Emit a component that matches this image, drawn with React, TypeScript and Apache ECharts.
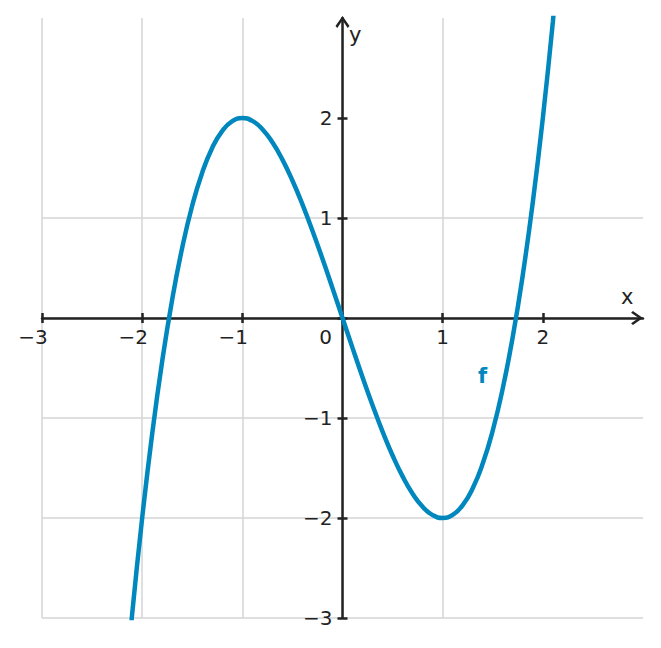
import React, { useEffect, useRef } from "react";
import * as echarts from "echarts";

const xs = [-2.2, -2.1, -2.0, -1.9, -1.8, -1.7, -1.6, -1.5, -1.4, -1.3, -1.2, -1.1, -1.0, -0.9, -0.8, -0.7, -0.6, -0.5, -0.4, -0.3, -0.2, -0.1, 0,
  0.1, 0.2, 0.3, 0.4, 0.5, 0.6, 0.7, 0.8, 0.9, 1.0, 1.1, 1.2, 1.3, 1.4, 1.5, 1.6, 1.7, 1.8, 1.9, 2.0, 2.1, 2.2];
const ys = [-4.048, -2.961, -2.0, -1.159, -0.432, 0.187, 0.704, 1.125, 1.456, 1.703, 1.872, 1.969, 2.0, 1.971, 1.888, 1.757, 1.584, 1.375, 1.136, 0.873, 0.592, 0.299, 0,
  -0.299, -0.592, -0.873, -1.136, -1.375, -1.584, -1.757, -1.888, -1.971, -2.0, -1.969, -1.872, -1.703, -1.456, -1.125, -0.704, -0.187, 0.432, 1.159, 2.0, 2.961, 4.048];
const tickValues = [-3, -2, -1, 0, 1, 2];
const seriesName = "f";

const FONT = "DejaVu Sans";
const FS = 20;
const AXIS_COLOR = "#222222";
const GRID_COLOR = "#d4d4d4";
const CURVE_COLOR = "#0087bd";
const ARROW = "path://M7,0 L14,10 L12.2,11.8 L7,4.2 L1.8,11.8 L0,10 Z";
const W = 661;
const H = 648;
const GRID = { left: 42, right: 18, top: 18, bottom: 30 };
// the axes cross at the centre of the symmetric [-3, 3] ranges
const X_SHIFT = -(W - GRID.left - GRID.right) / 2;
const Y_SHIFT = -(H - GRID.top - GRID.bottom) / 2;

export default function App() {
  const ref = useRef<HTMLDivElement>(null);
  useEffect(() => {
    if (!ref.current) return;
    const chart = echarts.init(ref.current, null, { renderer: "svg" });
    const data = xs.map((x, i) => [x, ys[i]]);
    const baseAxis = { type: "value", min: -3, max: 3, interval: 1 };
    const lineStyle = { color: AXIS_COLOR, width: 2.5 };
    chart.setOption({
      animation: false,
      backgroundColor: "#ffffff",
      grid: { ...GRID, containLabel: false, outerBoundsMode: "none" },
      xAxis: [
        {
          ...baseAxis,
          position: "bottom",
          offset: Y_SHIFT,
          axisLine: { show: true, onZero: false, lineStyle, symbol: ["none", ARROW], symbolSize: [14, 12], symbolOffset: [0, -6] },
          axisTick: { show: true, length: 5, lineStyle, customValues: tickValues },
          splitLine: { show: true, showMaxLine: false, lineStyle: { color: GRID_COLOR, width: 1.5 } },
          axisLabel: {
            show: true,
            margin: 9,
            customValues: tickValues,
            color: AXIS_COLOR,
            fontFamily: FONT,
            fontSize: FS,
            formatter: (v: number) => v === 0 ? "{z|0}" : v < 0 ? `{n|−${-v}}` : `{p|${v}}`,
            rich: {
              n: { fontFamily: FONT, fontSize: FS, color: AXIS_COLOR, padding: [0, 18, 0, 0] },
              z: { fontFamily: FONT, fontSize: FS, color: AXIS_COLOR, padding: [0, 34, 0, 0] },
              p: { fontFamily: FONT, fontSize: FS, color: AXIS_COLOR },
            },
          },
        },
        {
          ...baseAxis,
          position: "bottom",
          offset: Y_SHIFT,
          axisLine: { show: false, onZero: false },
          axisTick: { show: true, inside: true, length: 5, lineStyle, customValues: tickValues },
          splitLine: { show: false },
          axisLabel: { show: false },
        },
      ],
      yAxis: [
        {
          ...baseAxis,
          position: "left",
          offset: X_SHIFT,
          axisLine: { show: true, onZero: false, lineStyle, symbol: ["none", ARROW], symbolSize: [14, 12], symbolOffset: [0, -4] },
          axisTick: { show: true, length: 5, lineStyle, customValues: tickValues },
          splitLine: { show: true, showMaxLine: false, lineStyle: { color: GRID_COLOR, width: 1.5 } },
          axisLabel: {
            show: true,
            margin: 10,
            color: AXIS_COLOR,
            fontFamily: FONT,
            fontSize: FS,
            formatter: (v: number) => (v === 0 || v === 3 ? "" : v < 0 ? `−${-v}` : `${v}`),
          },
        },
        {
          ...baseAxis,
          position: "left",
          offset: X_SHIFT,
          axisLine: { show: false, onZero: false },
          axisTick: { show: true, inside: true, length: 5, lineStyle, customValues: tickValues },
          splitLine: { show: false },
          axisLabel: { show: false },
        },
      ],
      series: [
        {
          name: seriesName,
          type: "line",
          data,
          xAxisIndex: 0,
          yAxisIndex: 0,
          smooth: true,
          showSymbol: false,
          clip: true,
          lineStyle: { color: CURVE_COLOR, width: 4.5 },
          z: 1,
        },
      ],
      graphic: [
        { type: "text", left: 621, top: 286, style: { text: "x", fontFamily: FONT, fontSize: 21, fill: AXIS_COLOR } },
        { type: "text", left: 349, top: 24, style: { text: "y", fontFamily: FONT, fontSize: 21, fill: AXIS_COLOR } },
        { type: "text", left: 478, top: 365, style: { text: seriesName, fontFamily: FONT, fontSize: 21, fontWeight: "bold", fill: CURVE_COLOR } },
      ],
    });
    return () => chart.dispose();
  }, []);
  return <div ref={ref} style={{ position: "fixed", left: 0, top: 0, width: W, height: H }} />;
}
